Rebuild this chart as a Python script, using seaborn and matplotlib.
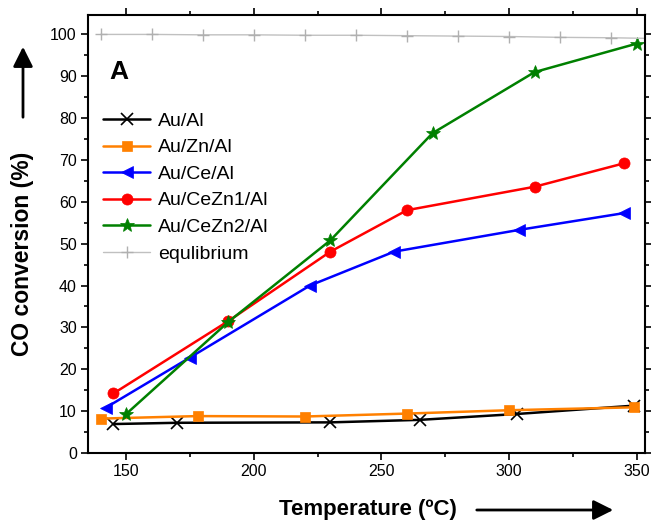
import numpy as np
import pandas as pd
import matplotlib
matplotlib.use("Agg")
import matplotlib.pyplot as plt
from matplotlib.ticker import MultipleLocator
import seaborn as sns

# =============================================================================
# DATA
# =============================================================================
temp_al = [145, 170, 230, 265, 303, 349]
conv_al = [6.9, 7.2, 7.3, 7.9, 9.3, 11.3]

temp_znal = [140, 178, 220, 260, 300, 349]
conv_znal = [8.2, 8.8, 8.7, 9.4, 10.2, 10.9]

temp_ceal = [142, 175, 222, 255, 304, 345]
conv_ceal = [10.8, 22.8, 40.0, 48.1, 53.3, 57.3]

temp_cezn1 = [145, 190, 230, 260, 310, 345]
conv_cezn1 = [14.2, 31.5, 48.1, 58.0, 63.6, 69.2]

temp_cezn2 = [150, 190, 230, 270, 310, 350]
conv_cezn2 = [9.3, 31.3, 50.8, 76.4, 91.0, 97.8]

temp_eq = [140, 160, 180, 200, 220, 240, 260, 280, 300, 320, 340, 360]
conv_eq = [100.0, 100.0, 99.9, 99.9, 99.8, 99.8, 99.7, 99.6, 99.5, 99.3, 99.2, 99.0]

series = [
    ("Au/Al", temp_al, conv_al, "black", "x", 8),
    ("Au/Zn/Al", temp_znal, conv_znal, "#ff8000", "s", 7),
    ("Au/Ce/Al", temp_ceal, conv_ceal, "#0000ff", "<", 8),
    ("Au/CeZn1/Al", temp_cezn1, conv_cezn1, "#ff0000", "o", 8),
    ("Au/CeZn2/Al", temp_cezn2, conv_cezn2, "#008000", "*", 10),
]

# =============================================================================
# PLOT
# =============================================================================
sns.set_style("ticks")
plt.rcParams['font.family'] = ['Liberation Sans', 'DejaVu Sans']
plt.rcParams['text.color'] = 'black'
plt.rcParams['xtick.color'] = 'black'
plt.rcParams['ytick.color'] = 'black'
plt.rcParams['axes.labelcolor'] = 'black'

fig = plt.figure(figsize=(6.51, 5.23), dpi=100)
ax = fig.add_axes([0.135, 0.134, 0.856, 0.837])

for name, t, c, col, mk, ms in series:
    df = pd.DataFrame({'T': t, 'conv': c})
    sns.lineplot(data=df, x='T', y='conv', ax=ax, color=col, marker=mk,
                 markersize=ms, linewidth=1.8, label=name,
                 markeredgecolor=col, markeredgewidth=1.2 if mk == "x" else 0.5)

df_eq = pd.DataFrame({'T': temp_eq, 'conv': conv_eq})
sns.lineplot(data=df_eq, x='T', y='conv', ax=ax, color="#c0c0c0", marker="+",
             markersize=9, linewidth=1.0, label="equlibrium",
             markeredgecolor="#b0b0b0", markeredgewidth=1.0)

ax.set_xlim(135, 353.3)
ax.set_ylim(0, 104.6)
ax.xaxis.set_major_locator(MultipleLocator(50))
ax.xaxis.set_minor_locator(MultipleLocator(25))
ax.yaxis.set_major_locator(MultipleLocator(10))
ax.yaxis.set_minor_locator(MultipleLocator(5))
ax.tick_params(which='both', direction='out', top=True, right=True,
               labeltop=False, labelright=False, width=1.2, color='black',
               labelcolor='black')
ax.tick_params(which='major', length=5, labelsize=11.5, pad=3)
ax.tick_params(which='minor', length=3)
for sp in ax.spines.values():
    sp.set_linewidth(1.5)
    sp.set_color('black')
ax.set_xlabel("")
ax.set_ylabel("")

ax.text(147, 91, "A", fontsize=19, fontweight='bold', ha='center', va='center')

leg = ax.legend(loc='upper left', bbox_to_anchor=(0.0, 0.814), frameon=False,
                fontsize=14, handlelength=2.4, labelspacing=0.46,
                handletextpad=0.4, borderaxespad=0.4)

# axis labels with arrows, as in the original figure
fig.text(23 / 651, 1 - 254 / 523, "CO conversion (%)", rotation=90,
         fontsize=16.5, fontweight='bold', ha='center', va='center')
fig.text(368 / 651, 1 - 510 / 523, "Temperature (ºC)",
         fontsize=16, fontweight='bold', ha='center', va='center')
fig.patches.append(matplotlib.patches.FancyArrowPatch(
    (23 / 651, 1 - 120 / 523), (23 / 651, 1 - 44 / 523),
    transform=fig.transFigure, arrowstyle='-|>,head_length=8,head_width=4',
    color='black', linewidth=2, mutation_scale=1.5))
fig.patches.append(matplotlib.patches.FancyArrowPatch(
    (474 / 651, 1 - 510 / 523), (616 / 651, 1 - 510 / 523),
    transform=fig.transFigure, arrowstyle='-|>,head_length=8,head_width=4',
    color='black', linewidth=2, mutation_scale=1.5))

plt.savefig("out.png", dpi=100)
plt.close()
